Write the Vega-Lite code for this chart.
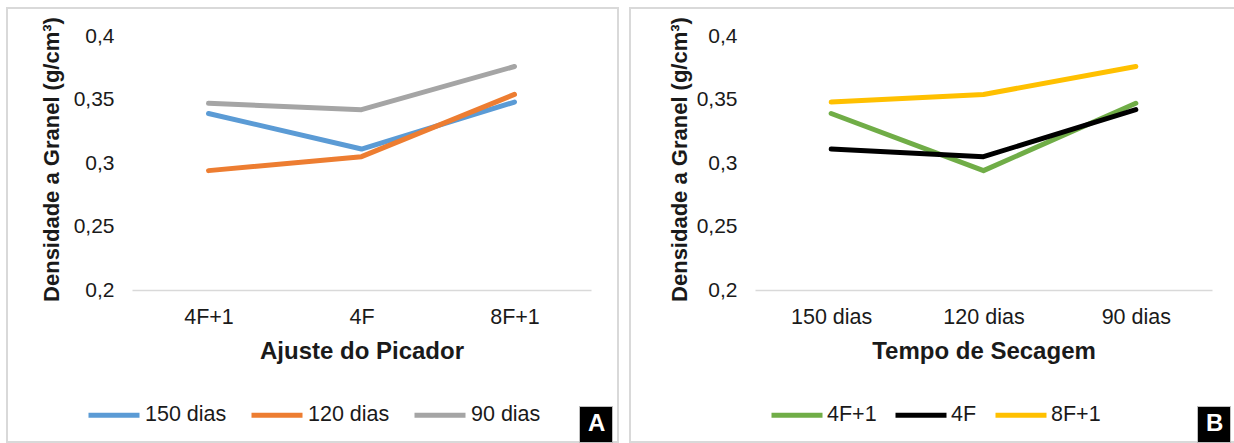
{
  "$schema": "https://vega.github.io/schema/vega-lite/v6.json",
  "padding": {"left": 6, "top": 7, "right": 0, "bottom": 0},
  "background": "white",
  "spacing": 10,
  "datasets": {
    "dens": [
      {"ajuste": "4F+1", "tempo": "150 dias", "densidade": 0.339},
      {"ajuste": "4F+1", "tempo": "120 dias", "densidade": 0.294},
      {"ajuste": "4F+1", "tempo": "90 dias", "densidade": 0.347},
      {"ajuste": "4F", "tempo": "150 dias", "densidade": 0.311},
      {"ajuste": "4F", "tempo": "120 dias", "densidade": 0.305},
      {"ajuste": "4F", "tempo": "90 dias", "densidade": 0.342},
      {"ajuste": "8F+1", "tempo": "150 dias", "densidade": 0.348},
      {"ajuste": "8F+1", "tempo": "120 dias", "densidade": 0.354},
      {"ajuste": "8F+1", "tempo": "90 dias", "densidade": 0.376}
    ]
  },
  "config": {
    "font": "Liberation Sans",
    "view": {"stroke": "#d9d9d9", "strokeWidth": 2},
    "axis": {"grid": false, "ticks": false, "tickSize": 0, "labelColor": "#1a1a1a", "titleColor": "#1a1a1a", "labelFont": "Liberation Sans", "titleFont": "Liberation Sans"},
    "legend": {"labelFont": "Liberation Sans"}
  },
  "resolve": {
    "scale": {"x": "independent", "y": "independent", "color": "independent", "shape": "independent"},
    "legend": {"color": "independent", "shape": "independent"}
  },
  "hconcat": [
    {
      "width": 611,
      "height": 434,
      "data": {"name": "dens"},
      "layer": [
        {
          "mark": {"type": "line", "strokeWidth": 5, "strokeCap": "round", "strokeJoin": "round"},
          "encoding": {
            "x": {
              "field": "ajuste", "type": "nominal", "sort": ["4F+1", "4F", "8F+1"],
              "scale": {"type": "point", "range": [125, 584], "padding": 0.5},
              "axis": {"orient": "bottom", "offset": -152, "domainColor": "#d9d9d9", "domainWidth": 1.5, "labelPadding": 16, "labelFontSize": 21.5, "labelAngle": 0, "title": "Ajuste do Picador", "titleFontSize": 24, "titleFontWeight": "bold", "titleY": 68, "titleBaseline": "alphabetic"}
            },
            "y": {
              "field": "densidade", "type": "quantitative",
              "scale": {"domain": [0.2, 0.4], "range": [282, 28], "zero": false, "nice": false},
              "axis": {"values": [0.2, 0.25, 0.3, 0.35, 0.4], "labelExpr": "replace(format(datum.value, '.2~f'), '.', ',')", "offset": -107, "domain": false, "labelPadding": 0, "labelFontSize": 21, "title": "Densidade a Granel (g/cm³)", "titleFontSize": 22, "titleFontWeight": "bold", "titleX": -63, "titleY": 151, "titleAngle": -90, "titleAlign": "center", "titleBaseline": "middle"}
            },
            "color": {
              "field": "tempo", "type": "nominal",
              "scale": {"domain": ["150 dias", "120 dias", "90 dias"], "range": ["#5B9BD5", "#ED7D31", "#A5A5A5"]},
              "legend": {"title": null, "orient": "none", "direction": "horizontal", "legendX": 79, "legendY": 379, "padding": 0, "symbolType": "stroke", "symbolSize": 2601, "symbolStrokeWidth": 5, "labelFontSize": 21.5, "labelColor": "#1a1a1a", "labelOffset": 3, "columnPadding": 14}
            }
          }
        },
        {
          "mark": {"type": "point", "opacity": 0},
          "encoding": {
            "shape": {"datum": "A", "legend": {"title": null, "orient": "none", "legendX": 572, "legendY": 398, "fillColor": "black", "strokeColor": "#bfbfbf", "padding": 6, "symbolSize": 1, "symbolOpacity": 0, "labelOffset": -21, "labelColor": "white", "labelFontSize": 24, "labelFontWeight": "bold"}}
          }
        }
      ]
    },
    {
      "width": 605,
      "height": 434,
      "data": {"name": "dens"},
      "layer": [
        {
          "mark": {"type": "line", "strokeWidth": 5, "strokeCap": "round", "strokeJoin": "round"},
          "encoding": {
            "x": {
              "field": "tempo", "type": "nominal", "sort": ["150 dias", "120 dias", "90 dias"],
              "scale": {"type": "point", "range": [125, 582], "padding": 0.5},
              "axis": {"orient": "bottom", "offset": -152, "domainColor": "#d9d9d9", "domainWidth": 1.5, "labelPadding": 16, "labelFontSize": 21.5, "labelAngle": 0, "title": "Tempo de Secagem", "titleFontSize": 24, "titleFontWeight": "bold", "titleY": 68, "titleBaseline": "alphabetic"}
            },
            "y": {
              "field": "densidade", "type": "quantitative",
              "scale": {"domain": [0.2, 0.4], "range": [282, 28], "zero": false, "nice": false},
              "axis": {"values": [0.2, 0.25, 0.3, 0.35, 0.4], "labelExpr": "replace(format(datum.value, '.2~f'), '.', ',')", "offset": -107, "domain": false, "labelPadding": 0, "labelFontSize": 21, "title": "Densidade a Granel (g/cm³)", "titleFontSize": 22, "titleFontWeight": "bold", "titleX": -57.5, "titleY": 151, "titleAngle": -90, "titleAlign": "center", "titleBaseline": "middle"}
            },
            "color": {
              "field": "ajuste", "type": "nominal",
              "scale": {"domain": ["4F+1", "4F", "8F+1"], "range": ["#70AD47", "#000000", "#FFC000"]},
              "legend": {"title": null, "orient": "none", "direction": "horizontal", "legendX": 139, "legendY": 379, "padding": 0, "symbolType": "stroke", "symbolSize": 2601, "symbolStrokeWidth": 5, "labelFontSize": 21.5, "labelColor": "#1a1a1a", "labelOffset": 2, "columnPadding": 8}
            }
          }
        },
        {
          "mark": {"type": "point", "opacity": 0},
          "encoding": {
            "shape": {"datum": "B", "legend": {"title": null, "orient": "none", "legendX": 567, "legendY": 398, "fillColor": "black", "strokeColor": "#bfbfbf", "padding": 6, "symbolSize": 1, "symbolOpacity": 0, "labelOffset": -21, "labelColor": "white", "labelFontSize": 24, "labelFontWeight": "bold"}}
          }
        }
      ]
    }
  ]
}
